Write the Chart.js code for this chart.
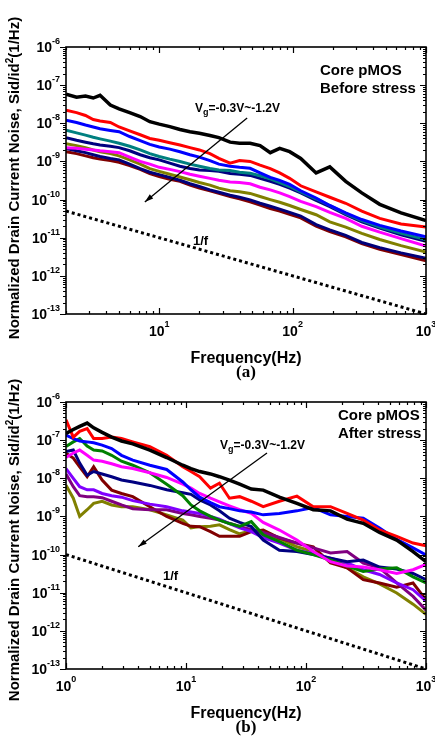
<!DOCTYPE html>
<html lang="en">
<head>
<meta charset="UTF-8">
<title>Core pMOS 1/f noise</title>
<script src="https://cdn.jsdelivr.net/npm/chart.js"></script>
<style>
    body {
        margin: 0;
        width: 435px;
        height: 738px;
        position: relative;
        overflow: hidden;
        background: #fff;
        font-family: "Liberation Sans", Arial, sans-serif;
        font-weight: bold;
        color: #000;
    }
    canvas { position: absolute; left: 0; }
    #chartA { top: 0; }
    #chartB { top: 380px; }
    .txt { position: absolute; white-space: nowrap; }
    .ytitle {
        position: absolute;
        font-size: 15px;
        white-space: nowrap;
        transform: translate(-50%, -50%) rotate(-90deg);
    }
    .ytitle sup { font-size: 10px; }
    .note { font-size: 15px; line-height: 18px; }
    .vg { font-size: 12px; }
    .vg sub { font-size: 9px; }
    .xtitle { font-size: 16px; transform: translateX(-50%); }
    .cap { font-family: "Liberation Serif", "Times New Roman", serif; font-size: 17px; transform: translateX(-50%); }
</style>
</head>
<body>
    <canvas id="chartA" width="435" height="380"></canvas>
    <canvas id="chartB" width="435" height="358"></canvas>

    <div class="ytitle" style="left:13px; top:178px;">Normalized Drain Current Noise, Sid/id<sup>2</sup>(1/Hz)</div>
    <div class="ytitle" style="left:13px; top:540px;">Normalized Drain Current Noise, Sid/id<sup>2</sup>(1/Hz)</div>

    <div class="txt note" style="left:320px; top:61px;">Core pMOS<br>Before stress</div>
    <div class="txt note" style="left:338px; top:406px;">Core pMOS<br>After stress</div>

    <div class="txt vg" style="left:195px; top:101px;">V<sub>g</sub>=-0.3V~-1.2V</div>
    <div class="txt vg" style="left:220px; top:438px;">V<sub>g</sub>=-0.3V~-1.2V</div>

    <div class="txt vg" style="left:193px; top:233px; font-size:13px;">1/f</div>
    <div class="txt vg" style="left:163px; top:568px; font-size:13px;">1/f</div>

    <div class="txt xtitle" style="left:246px; top:349px;">Frequency(Hz)</div>
    <div class="txt cap" style="left:246px; top:362px;">(a)</div>
    <div class="txt xtitle" style="left:246px; top:704px;">Frequency(Hz)</div>
    <div class="txt cap" style="left:246px; top:717px;">(b)</div>

<script>
    // ---- (a) before stress ----
    const freqA = [2, 2.4, 2.8, 3.2, 3.6, 4.3, 5, 6, 7.2, 8.5, 10, 12, 14.3, 17, 20, 24, 28, 34, 40, 48,
                   57, 68, 80, 95, 115, 150, 190, 250, 330, 450, 650, 1000];
    const blackA = [5.8e-8, 4.8e-8, 5.2e-8, 4.6e-8, 5.4e-8, 3.0e-8, 2.4e-8, 1.9e-8, 1.5e-8, 1.1e-8, 9.5e-9, 8.2e-9, 6.9e-9, 6.0e-9, 5.5e-9, 4.8e-9,
                    4.2e-9, 3.2e-9, 3.0e-9, 3.0e-9, 2.6e-9, 1.7e-9, 2.2e-9, 1.8e-9, 1.2e-9, 5.0e-10, 7.2e-10, 3.0e-10, 1.5e-10, 7.5e-11, 4.5e-11, 2.8e-11];
    const redA = [2.2e-8, 1.9e-8, 1.6e-8, 1.25e-8, 1.15e-8, 1.05e-8, 8.0e-9, 6.3e-9, 5.0e-9, 4.0e-9, 3.6e-9, 3.1e-9, 2.7e-9, 2.3e-9, 2.0e-9, 1.6e-9,
                  1.2e-9, 9.0e-10, 1.05e-9, 1.0e-9, 8.0e-10, 6.5e-10, 5.0e-10, 3.6e-10, 2.3e-10, 1.6e-10, 1.15e-10, 8.0e-11, 5.0e-11, 3.2e-11, 2.3e-11, 1.9e-11];
    const blueA = [1.2e-8, 1.05e-8, 9.0e-9, 8.0e-9, 7.2e-9, 6.5e-9, 6.0e-9, 4.5e-9, 3.5e-9, 2.8e-9, 2.4e-9, 2.1e-9, 1.8e-9, 1.5e-9, 1.3e-9, 1.05e-9,
                   8.5e-10, 7.5e-10, 7.0e-10, 6.6e-10, 5.0e-10, 3.8e-10, 3.2e-10, 2.5e-10, 1.7e-10, 1.1e-10, 7.0e-11, 4.5e-11, 3.0e-11, 2.1e-11, 1.5e-11, 1.05e-11];
    const tealA = [6.6e-9, 5.6e-9, 4.9e-9, 4.3e-9, 3.9e-9, 3.4e-9, 3.0e-9, 2.5e-9, 2.0e-9, 1.6e-9, 1.35e-9, 1.15e-9, 1.0e-9, 8.5e-10, 7.5e-10, 6.5e-10,
                   6.0e-10, 5.8e-10, 5.2e-10, 4.9e-10, 4.2e-10, 3.5e-10, 2.8e-10, 2.2e-10, 1.6e-10, 1.05e-10, 7.0e-11, 4.3e-11, 2.8e-11, 1.9e-11, 1.3e-11, 9.0e-12];
    const navyA = [4.2e-9, 3.6e-9, 3.2e-9, 2.9e-9, 2.7e-9, 2.5e-9, 2.3e-9, 1.9e-9, 1.5e-9, 1.25e-9, 1.1e-9, 9.0e-10, 7.5e-10, 6.5e-10, 6.0e-10, 5.8e-10,
                   5.5e-10, 4.8e-10, 4.6e-10, 4.3e-10, 3.6e-10, 3.0e-10, 2.5e-10, 2.0e-10, 1.5e-10, 9.5e-11, 6.5e-11, 4.0e-11, 2.6e-11, 1.8e-11, 1.2e-11, 8.0e-12];
    const magentaA = [2.3e-9, 2.2e-9, 2.1e-9, 2.0e-9, 1.9e-9, 1.8e-9, 1.7e-9, 1.3e-9, 1.0e-9, 8.5e-10, 7.0e-10, 6.2e-10, 5.4e-10, 4.6e-10, 4.1e-10, 3.6e-10,
                      3.2e-10, 2.9e-10, 2.8e-10, 2.6e-10, 2.1e-10, 1.8e-10, 1.5e-10, 1.2e-10, 9.0e-11, 6.5e-11, 4.6e-11, 3.2e-11, 2.0e-11, 1.4e-11, 9.5e-12, 6.0e-12];
    const oliveA = [2.9e-9, 2.6e-9, 2.3e-9, 2.0e-9, 1.8e-9, 1.6e-9, 1.4e-9, 1.1e-9, 8.5e-10, 6.5e-10, 5.5e-10, 4.6e-10, 3.9e-10, 3.3e-10, 2.8e-10, 2.4e-10,
                    2.0e-10, 1.7e-10, 1.6e-10, 1.45e-10, 1.2e-10, 1.0e-10, 8.5e-11, 7.0e-11, 5.5e-11, 4.0e-11, 2.6e-11, 1.9e-11, 1.3e-11, 9.0e-12, 6.2e-12, 4.2e-12];
    const navy2A = [2.2e-9, 1.9e-9, 1.7e-9, 1.5e-9, 1.35e-9, 1.2e-9, 1.1e-9, 8.5e-10, 6.5e-10, 5.2e-10, 4.5e-10, 3.8e-10, 3.2e-10, 2.6e-10, 2.2e-10, 1.8e-10,
                    1.55e-10, 1.3e-10, 1.15e-10, 9.8e-11, 8.0e-11, 6.7e-11, 5.6e-11, 4.6e-11, 3.7e-11, 2.2e-11, 1.6e-11, 1.15e-11, 7.5e-12, 5.5e-12, 4.0e-12, 2.9e-12];
    const wineA = [1.8e-9, 1.6e-9, 1.4e-9, 1.25e-9, 1.15e-9, 1.05e-9, 9.5e-10, 7.8e-10, 6.2e-10, 4.8e-10, 4.0e-10, 3.4e-10, 3.0e-10, 2.4e-10, 2.0e-10, 1.7e-10,
                   1.45e-10, 1.2e-10, 1.05e-10, 8.7e-11, 7.2e-11, 5.8e-11, 5.0e-11, 4.1e-11, 3.3e-11, 2.0e-11, 1.45e-11, 1.05e-11, 7.0e-12, 5.0e-12, 3.6e-12, 2.5e-12];
    const refFreqA = [2, 1000];
    const refA = [5e-11, 1e-13];   // 1/f guide
    const arrowA = [[45.6, 1.38e-8], [7.8, 8.7e-11]];
    const xTickExpA = [1, 2, 3];

    // ---- (b) after stress ----
    const freqB = [1, 1.15, 1.3, 1.5, 1.7, 2, 2.4, 2.9, 3.6, 5, 6.9, 9.4, 11, 13, 16, 19, 23, 28, 35, 44,
                   60, 84, 115, 160, 220, 300, 410, 570, 780, 1000];
    const blackB = [1.5e-7, 1.9e-7, 2.3e-7, 2.8e-7, 2.1e-7, 1.6e-7, 1.2e-7, 9.5e-8, 8.0e-8, 5.5e-8, 3.5e-8, 2.2e-8, 1.8e-8, 1.5e-8, 1.3e-8, 1.1e-8, 9.0e-9, 7.0e-9, 5.2e-9, 4.9e-9,
                    3.2e-9, 2.2e-9, 1.5e-9, 1.4e-9, 8.5e-10, 6.6e-10, 3.8e-10, 2.4e-10, 1.2e-10, 6.5e-11];
    const redB = [3.4e-7, 1.2e-7, 1.7e-7, 2.0e-7, 1.1e-7, 1.1e-7, 1.2e-7, 1.1e-7, 9.0e-8, 6.7e-8, 4.0e-8, 2.0e-8, 1.5e-8, 1.1e-8, 5.5e-9, 7.4e-9, 3.0e-9, 3.3e-9, 2.5e-9, 1.8e-9,
                  2.5e-9, 3.4e-9, 1.8e-9, 1.8e-9, 1.2e-9, 8.0e-10, 4.4e-10, 3.0e-10, 2.0e-10, 1.7e-10];
    const blueB = [1.35e-7, 1.1e-7, 9.5e-8, 9.0e-8, 8.5e-8, 7.4e-8, 6.0e-8, 4.0e-8, 3.0e-8, 2.2e-8, 1.7e-8, 8.0e-9, 5.0e-9, 3.2e-9, 2.3e-9, 1.8e-9, 1.6e-9, 1.4e-9, 1.3e-9, 1.1e-9,
                   1.2e-9, 1.4e-9, 1.7e-9, 1.1e-9, 1.0e-9, 9.0e-10, 5.0e-10, 2.5e-10, 1.5e-10, 9.8e-11];
    const magentaB = [3.5e-8, 4.6e-8, 5.5e-8, 4.0e-8, 3.0e-8, 2.8e-8, 2.4e-8, 2.0e-8, 1.8e-8, 1.4e-8, 1.05e-8, 7.0e-9, 5.5e-9, 4.0e-9, 3.0e-9, 2.4e-9, 1.9e-9, 1.5e-9, 1.2e-9, 7.0e-10,
                      4.4e-10, 2.4e-10, 1.2e-10, 6.5e-11, 5.0e-11, 4.7e-11, 4.0e-11, 3.2e-11, 4.0e-11, 5.5e-11];
    const greenB = [6.8e-8, 9.0e-8, 1.1e-7, 7.0e-8, 5.5e-8, 5.2e-8, 4.0e-8, 2.8e-8, 2.2e-8, 1.4e-8, 7.0e-9, 3.5e-9, 2.0e-9, 1.4e-9, 1.0e-9, 8.0e-10, 6.5e-10, 5.5e-10, 7.3e-10, 3.3e-10,
                    2.2e-10, 1.3e-10, 1.0e-10, 7.2e-11, 5.0e-11, 3.6e-11, 4.2e-11, 4.5e-11, 2.6e-11, 1.8e-11];
    const navyB = [5.0e-8, 5.5e-8, 2.5e-8, 1.2e-8, 1.5e-8, 1.3e-8, 1.1e-8, 9.0e-9, 8.0e-9, 6.5e-9, 5.0e-9, 4.2e-9, 3.8e-9, 2.7e-9, 2.0e-9, 1.4e-9, 9.0e-10, 7.0e-10, 5.4e-10, 2.4e-10,
                   1.3e-10, 1.2e-10, 1.0e-10, 8.0e-11, 6.5e-11, 7.2e-11, 4.7e-11, 4.2e-11, 3.2e-11, 2.2e-11];
    const violetB = [1.8e-8, 1.0e-8, 6.0e-9, 5.0e-9, 5.0e-9, 4.0e-9, 3.5e-9, 3.2e-9, 2.6e-9, 2.1e-9, 1.8e-9, 1.4e-9, 1.3e-9, 1.2e-9, 1.0e-9, 8.5e-10, 6.5e-10, 5.0e-10, 4.0e-10, 2.8e-10,
                     2.0e-10, 1.3e-10, 1.05e-10, 8.0e-11, 6.0e-11, 4.0e-11, 3.0e-11, 1.8e-11, 1.2e-11, 6.0e-12];
    const purpleB = [1.3e-8, 6.0e-9, 3.5e-9, 3.3e-9, 3.3e-9, 3.1e-9, 2.5e-9, 2.0e-9, 1.6e-9, 1.5e-9, 1.5e-9, 1.2e-9, 1.1e-9, 1.0e-9, 9.0e-10, 8.0e-10, 6.6e-10, 5.5e-10, 4.5e-10, 3.8e-10,
                     2.8e-10, 2.0e-10, 1.5e-10, 1.1e-10, 1.2e-10, 6.0e-11, 4.5e-11, 1.8e-11, 8.0e-12, 3.5e-12];
    const wineB = [4.5e-8, 3.4e-8, 2.0e-8, 1.1e-8, 2.0e-8, 9.0e-9, 4.9e-9, 4.0e-9, 3.3e-9, 1.8e-9, 1.0e-9, 6.6e-10, 5.5e-10, 5.4e-10, 4.0e-10, 3.0e-10, 3.0e-10, 3.0e-10, 4.0e-10, 4.4e-10,
                   2.7e-10, 2.0e-10, 1.6e-10, 6.0e-11, 4.5e-11, 2.2e-11, 1.8e-11, 1.4e-11, 1.8e-11, 6.5e-12];
    const oliveB = [6.6e-9, 3.0e-9, 1.0e-9, 1.5e-9, 2.2e-9, 2.5e-9, 2.0e-9, 1.8e-9, 1.8e-9, 1.5e-9, 1.1e-9, 8.0e-10, 5.0e-10, 5.4e-10, 5.5e-10, 6.0e-10, 4.5e-10, 3.5e-10, 4.2e-10, 3.2e-10,
                    2.6e-10, 1.6e-10, 1.2e-10, 7.2e-11, 4.5e-11, 2.6e-11, 1.7e-11, 9.8e-12, 5.0e-12, 2.7e-12];
    const refFreqB = [1, 1000];
    const refB = [1e-10, 1e-13];
    const arrowB = [[47.3, 4.6e-8], [4.0, 1.6e-10]];
    const xTickExpB = [0, 1, 2, 3];

    const yTickExp = [-6, -7, -8, -9, -10, -11, -12, -13];

    // 선 하나 만들기
    function series(freq, vals, color, width) {
        return {
            data: vals.map((v, i) => ({ x: freq[i], y: v })),
            borderColor: color,
            borderWidth: width,
            pointRadius: 0,
            fill: false,
            tension: 0
        };
    }

    // 박스, 눈금, 눈금 라벨, 화살표
    const framePlugin = {
        id: 'frame',
        afterDatasetsDraw(chart) {
            const { ctx, chartArea: a, scales: { x, y } } = chart;
            const o = chart.options.plugins.frame;
            ctx.save();
            ctx.strokeStyle = '#000';
            ctx.fillStyle = '#000';

            // arrow
            const [p0, p1] = o.arrow;
            const x0 = x.getPixelForValue(p0[0]), y0 = y.getPixelForValue(p0[1]);
            const x1 = x.getPixelForValue(p1[0]), y1 = y.getPixelForValue(p1[1]);
            ctx.lineWidth = 1.3;
            ctx.beginPath(); ctx.moveTo(x0, y0); ctx.lineTo(x1, y1); ctx.stroke();
            const ang = Math.atan2(y1 - y0, x1 - x0);
            ctx.beginPath();
            ctx.moveTo(x1, y1);
            ctx.lineTo(x1 - 9 * Math.cos(ang - 0.3), y1 - 9 * Math.sin(ang - 0.3));
            ctx.lineTo(x1 - 9 * Math.cos(ang + 0.3), y1 - 9 * Math.sin(ang + 0.3));
            ctx.closePath(); ctx.fill();

            // box
            ctx.lineWidth = 1.6;
            ctx.strokeRect(a.left, a.top, a.right - a.left, a.bottom - a.top);

            // ticks
            ctx.lineWidth = 1.2;
            const ticks = (sc) => {
                const out = [];
                const e0 = Math.floor(Math.log10(sc.min)), e1 = Math.ceil(Math.log10(sc.max));
                for (let e = e0; e <= e1; e++) {
                    for (let m = 1; m <= 9; m++) {
                        const v = m * Math.pow(10, e);
                        if (v >= sc.min * 0.999 && v <= sc.max * 1.001) out.push({ v, major: m === 1 });
                    }
                }
                return out;
            };
            ctx.beginPath();
            ticks(x).forEach(t => {
                const px = Math.round(x.getPixelForValue(t.v)) + 0.5;
                const len = t.major ? 6 : 3;
                ctx.moveTo(px, a.bottom); ctx.lineTo(px, a.bottom - len);
                ctx.moveTo(px, a.top); ctx.lineTo(px, a.top + len);
            });
            ticks(y).forEach(t => {
                const py = Math.round(y.getPixelForValue(t.v)) + 0.5;
                const len = t.major ? 6 : 3;
                ctx.moveTo(a.left, py); ctx.lineTo(a.left - len, py);
                ctx.moveTo(a.right, py); ctx.lineTo(a.right - len, py);
            });
            ctx.stroke();

            // tick labels 10^n
            const baseFont = 'bold 14px "Liberation Sans", Arial, sans-serif';
            const expFont = 'bold 9px "Liberation Sans", Arial, sans-serif';
            ctx.textBaseline = 'alphabetic';
            ctx.textAlign = 'left';
            yTickExp.forEach(e => {
                const py = y.getPixelForValue(Math.pow(10, e));
                const ex = String(e);
                ctx.font = expFont; const ew = ctx.measureText(ex).width;
                ctx.font = baseFont; const bw = ctx.measureText('10').width;
                const right = a.left - 6;
                ctx.fillText('10', right - ew - bw, py + 5);
                ctx.font = expFont; ctx.fillText(ex, right - ew, py - 3);
            });
            o.xExp.forEach(e => {
                const px = x.getPixelForValue(Math.pow(10, e));
                const ex = String(e);
                ctx.font = expFont; const ew = ctx.measureText(ex).width;
                ctx.font = baseFont; const bw = ctx.measureText('10').width;
                const left = px - (bw + ew) / 2;
                ctx.fillText('10', left, a.bottom + 22);
                ctx.font = expFont; ctx.fillText(ex, left + bw, a.bottom + 13);
            });
            ctx.restore();
        }
    };

    function makeChart(id, freq, lines, colors, widths, refFreq, ref, xmin, arrow, xExp, pad) {
        const datasets = lines.map((vals, i) => series(freq, vals, colors[i], widths[i]));
        const dotted = series(refFreq, ref, '#000', 3);
        dotted.borderDash = [3, 3];
        datasets.push(dotted);
        return new Chart(document.getElementById(id), {
            type: 'line',
            data: { datasets: datasets },
            options: {
                responsive: false,
                animation: false,
                layout: { padding: pad },
                scales: {
                    x: { type: 'logarithmic', min: xmin, max: 1000, display: false },
                    y: { type: 'logarithmic', min: 1e-13, max: 1e-6, display: false }
                },
                plugins: {
                    legend: { display: false },
                    tooltip: { enabled: false },
                    frame: { arrow: arrow, xExp: xExp }
                }
            },
            plugins: [framePlugin]
        });
    }

    makeChart('chartA', freqA,
        [blackA, redA, blueA, tealA, navyA, magentaA, oliveA, navy2A, wineA],
        ['#000000', '#ff0000', '#0000ff', '#008080', '#000080', '#ff00ff', '#808000', '#00007a', '#800000'],
        [3.5, 3, 3, 3, 3, 3, 3, 3, 3],
        refFreqA, refA, 2, arrowA, xTickExpA,
        { left: 66, right: 9, top: 47, bottom: 66 });

    makeChart('chartB', freqB,
        [blackB, redB, blueB, magentaB, greenB, navyB, violetB, purpleB, wineB, oliveB],
        ['#000000', '#ff0000', '#0000ff', '#ff00ff', '#008000', '#000080', '#8000ff', '#800080', '#800000', '#808000'],
        [3.5, 3, 3, 3, 3, 3, 3, 3, 3, 3],
        refFreqB, refB, 1, arrowB, xTickExpB,
        { left: 66, right: 9, top: 22, bottom: 69 });
</script>
</body>
</html>
